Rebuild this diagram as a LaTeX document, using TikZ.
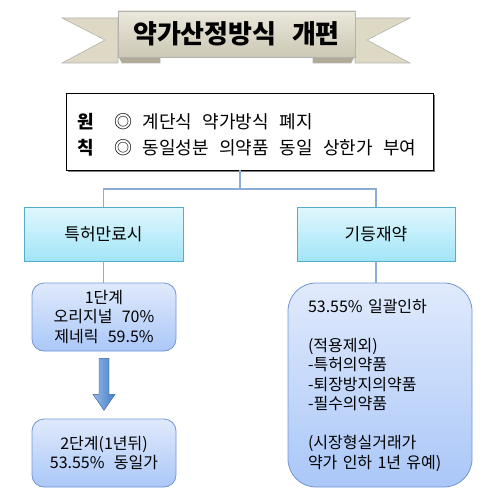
\documentclass[tikz,border=0pt]{standalone}
\usepackage{fontspec}
\setmainfont[WordSpace=2.6]{Noto Sans CJK KR}
\usepackage{tikz}
\usetikzlibrary{positioning,shadows,calc}
\definecolor{beigeruban}{RGB}{221,217,196}
\definecolor{beigefonce}{RGB}{176,171,148}
\definecolor{cyanhaut}{RGB}{224,247,253}
\definecolor{cyanbas}{RGB}{162,229,248}
\definecolor{cyanbord}{RGB}{84,174,202}
\definecolor{bleuhaut}{RGB}{224,234,252}
\definecolor{bleubas}{RGB}{170,199,248}
\definecolor{bleubord}{RGB}{112,150,210}
\definecolor{bleulien}{RGB}{140,172,214}
\definecolor{bleufleche}{RGB}{66,126,204}
\newcommand{\tailleA}{\fontsize{18}{20}\selectfont}
\newcommand{\tailleB}{\fontsize{16}{19.5}\selectfont}
\tikzstyle{ruban}=[fill=beigeruban, draw=black!30, line width=0.6pt, line join=miter]
\tikzstyle{pliruban}=[fill=beigefonce, draw=black!30, line width=0.6pt]
\tikzstyle{titre}=[draw=black!30, top color=beigeruban!60!white, bottom color=beigeruban!92!black, minimum width=237pt, minimum height=46pt, inner sep=0, font=\fontsize{26}{28}\selectfont\bfseries]
\tikzstyle{cadre}=[draw=black, line width=0.8pt, fill=white, minimum width=367pt, minimum height=77pt, drop shadow={shadow xshift=2pt, shadow yshift=-2pt, fill=black!50, opacity=1}]
\tikzstyle{ligne}=[anchor=west, inner sep=0, font=\tailleA]
\tikzstyle{etiquette}=[inner sep=0, font=\tailleA\bfseries]
\tikzstyle{boite}=[draw=cyanbord, line width=0.8pt, top color=cyanhaut, bottom color=cyanbas, minimum height=54pt, font=\fontsize{17}{20}\selectfont]
\tikzstyle{etape}=[draw=bleubord, line width=0.8pt, top color=bleuhaut, bottom color=bleubas, rounded corners=12pt, minimum width=144pt, minimum height=68pt, align=center, font=\tailleB]
\tikzstyle{lien}=[draw=bleulien, line width=1.6pt]
\tikzstyle{fleche}=[draw=bleufleche!80!black, line width=0.4pt, left color=bleufleche!55!white, right color=bleufleche, line join=miter]

\begin{document}
\begin{tikzpicture}[x=1pt,y=-1pt]
\useasboundingbox (0,0) rectangle (487,503);

%ruban
\path[ruban] (118,18) -- (62,18) -- (105,40) -- (62,63) -- (118,63) -- cycle;
\path[ruban] (355,18) -- (410,18) -- (367,40) -- (410,63) -- (355,63) -- cycle;
\path[pliruban] (118,55) -- (160,55) -- (160,63) -- (122,63) -- cycle;
\path[pliruban] (313,55) -- (355,55) -- (351,63) -- (313,63) -- cycle;
\node[titre] (titre) at (236.5,34) {약가산정방식 개편};

%principe
\node[cadre] (principe) at (249.5,131.5) {};
\node[etiquette] (won) at (86,122) {원};
\node[etiquette] (chik) at (86,148) {칙};
\node[ligne] (regle1) at (114,122) {◎ 계단식 약가방식 폐지};
\node[ligne] (regle2) at (114,148) {◎ 동일성분 의약품 동일 상한가 부여};

%branches
\node[boite, minimum width=159pt] (brevet) at (103.5,234) {특허만료시};
\node[boite, minimum width=158pt] (generique) at (376,234) {기등재약};
\coordinate (jonction) at (240,189);

\node[etape] (etape1) at (104,317) {1단계\\오리지널 70\%\\제네릭 59.5\%};
\node[etape] (etape2) at (104,453) {2단계(1년뒤)\\53.55\% 동일가};
\node[etape, rounded corners=28pt, minimum width=184pt, minimum height=204pt, text width=144pt, align=left] (baisse) at (380,385)
  {53.55\% 일괄인하\\[19.5pt](적용제외)\\-특허의약품\\-퇴장방지의약품\\-필수의약품\\[19.5pt](시장형실거래가\\약가 인하 1년 유예)};

\draw[lien] (principe.south -| jonction) -- (jonction);
\draw[lien] (brevet.north) |- (jonction) -| (generique.north);
\draw[lien] (brevet.south) -- (brevet.south |- etape1.north);
\draw[lien] (generique.south) -- (generique.south |- baisse.north);

%fleche
\path[fleche] ($(etape1.south)+(-5,7)$) -- ++(10,0) -- ++(0,36) -- ++(6,0) -- ++(-11,16) -- ++(-11,-16) -- ++(6,0) -- cycle;
\end{tikzpicture}
\end{document}
